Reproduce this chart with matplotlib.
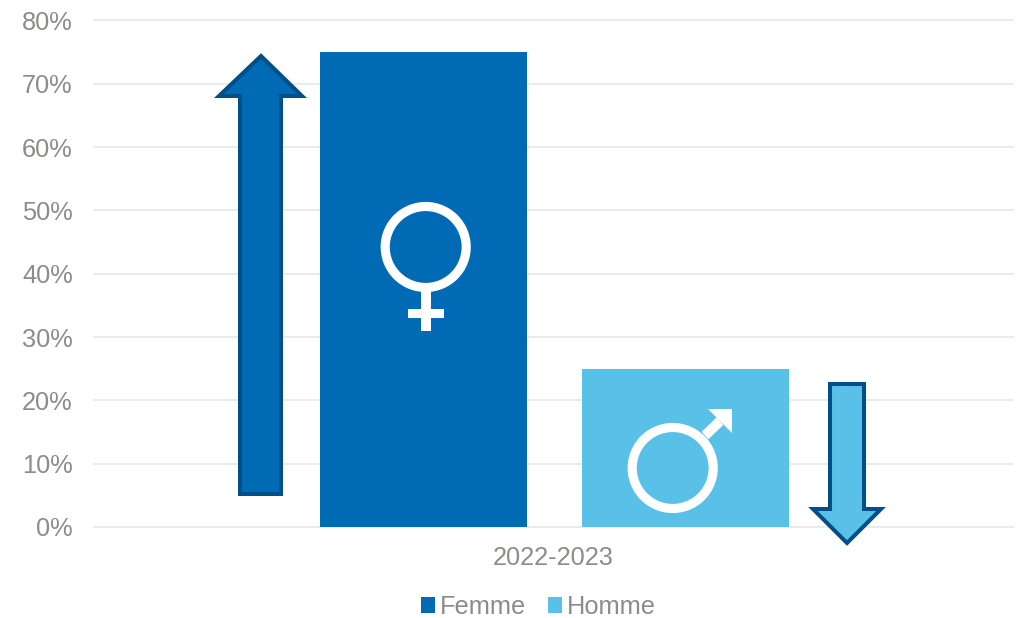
"""Share of women and men, 2022-2023, with trend arrows and gender symbols."""

import matplotlib
matplotlib.use('Agg')
import matplotlib.pyplot as plt
from matplotlib.patches import Circle, Polygon, Rectangle
from matplotlib.ticker import PercentFormatter

periods = ['2022-2023']
series_names = ['Femme', 'Homme']
series_values = [75, 25]
y_ticks = [0, 10, 20, 30, 40, 50, 60, 70, 80]

DARK_BLUE = '#006AB5'
LIGHT_BLUE = '#59C0E7'
ARROW_EDGE = '#004F88'
GREY = '#8C8C8A'
GRID = '#E6E6E6'

W, H = 1019, 618

plt.rcParams['font.family'] = ['Liberation Sans', 'DejaVu Sans']

fig = plt.figure(figsize=(W / 100, H / 100), dpi=100)
ax = fig.add_axes([94 / W, 1 - 527 / H, 919 / W, 506.5 / H])

# Two bars side by side around the single category
bar_w = 207 / 919
offsets = [-130 / 919, 132 / 919]
colors = [DARK_BLUE, LIGHT_BLUE]
for name, value, off, color in zip(series_names, series_values, offsets, colors):
    ax.bar(off, value, width=bar_w, color=color, label=name, zorder=3)

ax.set_xlim(-0.5, 0.5)
ax.set_ylim(0, 80)
ax.set_yticks(y_ticks)
ax.yaxis.set_major_formatter(PercentFormatter(decimals=0))
ax.set_xticks([0])
ax.set_xticklabels(periods)
ax.tick_params(axis='both', length=0, labelsize=18.3, labelcolor=GREY)
ax.tick_params(axis='y', pad=15.3)
ax.tick_params(axis='x', pad=14)
ax.grid(True, axis='y', color=GRID, linewidth=1.1, zorder=0)
ax.set_axisbelow(True)
for spine in ax.spines.values():
    spine.set_visible(False)
for gridline in ax.get_ygridlines():
    gridline.set_clip_on(False)

ax.legend(loc='center', bbox_to_anchor=(538.5 / W, 1 - 607 / H),
          bbox_transform=fig.transFigure, ncol=2, frameon=False,
          fontsize=18.3, labelcolor=GREY, handlelength=0.55, handleheight=0.55,
          handletextpad=0.2, columnspacing=0.83, borderpad=0)

# Overlay in pixel units for the arrows and symbols
overlay = fig.add_axes([0, 0, 1, 1], facecolor='none')
overlay.set_xlim(0, W)
overlay.set_ylim(H, 0)
overlay.axis('off')


def add_arrow(points, color):
    overlay.add_patch(Polygon(points, closed=True, facecolor=color, edgecolor=ARROW_EDGE,
                              linewidth=2.9, joinstyle='miter'))


add_arrow([(261, 56), (302, 96), (281, 96), (281, 494), (240, 494), (240, 96), (219, 96)],
          DARK_BLUE)
add_arrow([(847, 543), (813, 509), (830, 509), (830, 384), (864, 384), (864, 509), (881, 509)],
          LIGHT_BLUE)

# Female symbol
overlay.add_patch(Rectangle((421, 285), 9.7, 46, color='white', linewidth=0))
overlay.add_patch(Rectangle((408, 309), 36, 9, color='white', linewidth=0))
overlay.add_patch(Circle((425.7, 247), 40.5, facecolor='none', edgecolor='white', linewidth=6.6))

# Male symbol
overlay.add_patch(Polygon([(701.7, 431.7), (716.7, 417.3), (723.3, 425), (708.3, 439.3)],
                          color='white', linewidth=0))
overlay.add_patch(Polygon([(708, 408.7), (732.5, 408.7), (732.5, 433)],
                          color='white', linewidth=0))
overlay.add_patch(Circle((672.7, 468), 40.5, facecolor='none', edgecolor='white', linewidth=6.6))

fig.savefig('out.png', dpi=100)
